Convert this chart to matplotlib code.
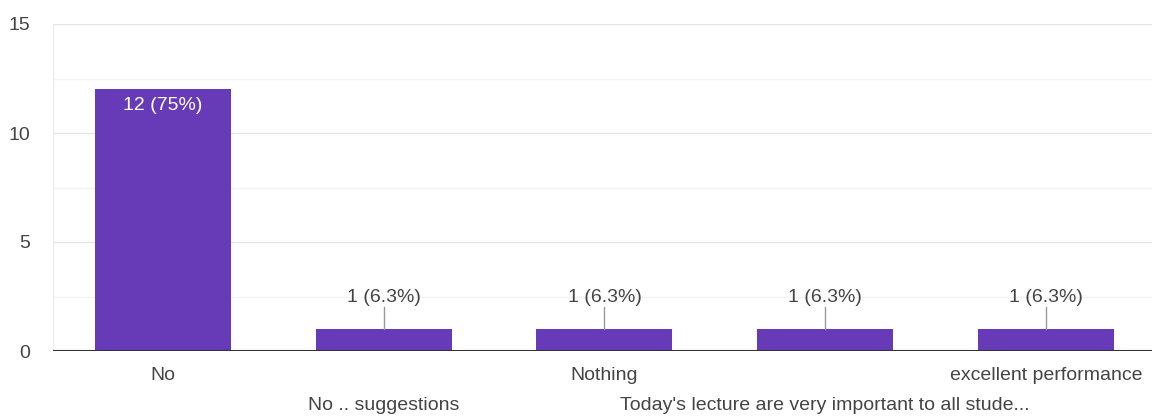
import matplotlib
matplotlib.use("Agg")
import matplotlib.pyplot as plt
import matplotlib.transforms as mtransforms

categories = ["No", "No .. suggestions", "Nothing",
              "Today's lecture are very important to all stude...",
              "excellent performance"]
counts = [12, 1, 1, 1, 1]
labels = ["12 (75%)", "1 (6.3%)", "1 (6.3%)", "1 (6.3%)", "1 (6.3%)"]
yticks = [0, 5, 10, 15]

plt.rcParams['font.family'] = ['Liberation Sans', 'DejaVu Sans']

fig = plt.figure(figsize=(11.52, 4.16), dpi=100)
ax = fig.add_axes([52.6/1152, 1-351/416, 1103.75/1152, (351-24)/416])

bar_color = "#673ab7"
text_color = "#444444"
fs = 14

for v in [2.5, 7.5, 12.5]:
    ax.axhline(v, color="#f3f3f3", lw=1, zorder=0)
for v in [5, 10, 15]:
    ax.axhline(v, color="#e6e6e6", lw=1, zorder=0)
ax.axvline(-0.5, color="#ececec", lw=1, zorder=0)

x = list(range(len(categories)))
ax.bar(x, counts, width=0.616, color=bar_color, zorder=2)
ax.axhline(0, color="#333333", lw=1.5, zorder=3)

ax.set_xlim(-0.5, 4.5)
ax.set_ylim(0, 15)

for xi, c, lab in zip(x, counts, labels):
    if c >= 5:
        ax.text(xi, c - 0.35, lab, ha="center", va="top", color="white",
                fontsize=fs, zorder=4)
    else:
        ax.plot([xi, xi], [c, c + 1.0], color="#999999", lw=1, zorder=3)
        ax.text(xi, c + 1.05, lab, ha="center", va="bottom", color=text_color,
                fontsize=fs, zorder=4)

for spine in ax.spines.values():
    spine.set_visible(False)

ax.set_yticks(yticks)
ax.set_yticklabels([str(t) for t in yticks], color=text_color, fontsize=fs)
ax.tick_params(axis="y", length=0, pad=16)
ax.set_xticks([])

trans = mtransforms.blended_transform_factory(ax.transData, fig.transFigure)
for i, (xi, cat) in enumerate(zip(x, categories)):
    ypos = 376 if i % 2 == 0 else 405
    ax.text(xi, 1 - ypos/416, cat, transform=trans,
            ha="center", va="center", color=text_color, fontsize=fs)

fig.savefig("out.png", dpi=100)
